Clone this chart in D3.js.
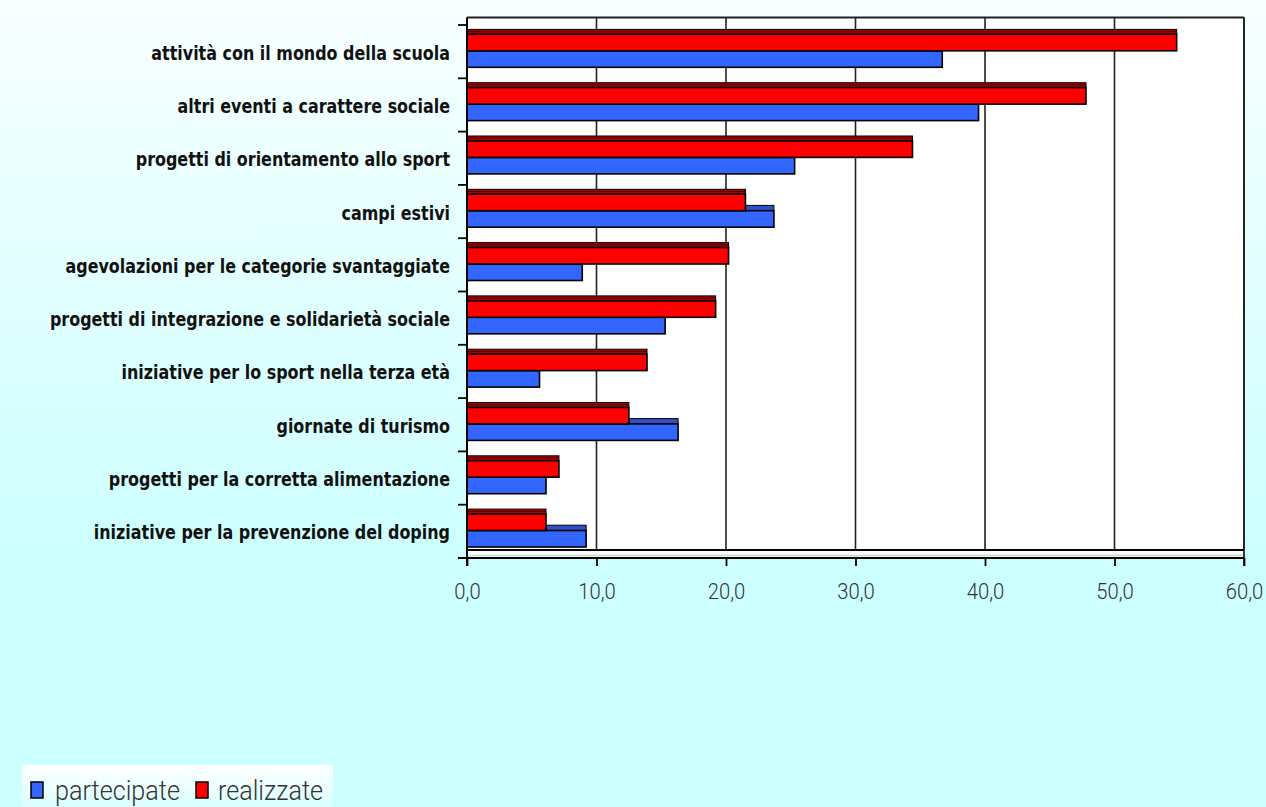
<!DOCTYPE html>
<html><head><meta charset="utf-8">
<script src="https://cdn.jsdelivr.net/npm/d3@7"></script>
<style>
html,body{margin:0;padding:0;overflow:hidden;}
svg{display:block;}
</style></head>
<body>
<svg id="c" width="1266" height="807"></svg>
<script>
const categories = [
  "attività con il mondo della scuola",
  "altri eventi a carattere sociale",
  "progetti di orientamento allo sport",
  "campi estivi",
  "agevolazioni per le categorie svantaggiate",
  "progetti di integrazione e solidarietà sociale",
  "iniziative per lo sport nella terza età",
  "giornate di turismo",
  "progetti per la corretta alimentazione",
  "iniziative per la prevenzione del doping"
];
const partecipate = [36.7, 39.5, 25.3, 23.7, 8.9, 15.3, 5.6, 16.3, 6.1, 9.2];
const realizzate  = [54.8, 47.8, 34.4, 21.5, 20.2, 19.2, 13.9, 12.5, 7.1, 6.1];
const tickValues = [0, 10, 20, 30, 40, 50, 60];
const seriesNames = ["partecipate", "realizzate"];

const svg = d3.select("#c");
const W = 1266, H = 807;

const defs = svg.append("defs");
const bg = defs.append("linearGradient").attr("id","bg").attr("x1",0).attr("y1",0).attr("x2",0).attr("y2",1);
bg.append("stop").attr("offset","0%").attr("stop-color","#F8FFFF");
bg.append("stop").attr("offset","70%").attr("stop-color","#CCFFFF");
bg.append("stop").attr("offset","100%").attr("stop-color","#CCFFFF");
const lg = defs.append("linearGradient").attr("id","lg").attr("x1",0).attr("y1",0).attr("x2",0).attr("y2",1);
lg.append("stop").attr("offset","0%").attr("stop-color","#FFFFFF");
lg.append("stop").attr("offset","100%").attr("stop-color","#D8FFFF");

svg.append("rect").attr("width",W).attr("height",H).attr("fill","url(#bg)");

const x = d3.scaleLinear().domain([0,60]).range([467,1244]);
const y = d3.scaleBand().domain(categories).range([25,558]);
const backTop = 17.5, backBottom = 550, frontAxis = 558;

svg.append("rect").attr("x",x(0)).attr("y",backTop).attr("width",x(60)-x(0)).attr("height",frontAxis-backTop)
  .attr("fill","#fff");
svg.append("line").attr("x1",x(0)).attr("x2",x(60)).attr("y1",frontAxis-2.5).attr("y2",frontAxis-2.5)
  .attr("stroke","#d8d8d8").attr("stroke-width",2);

svg.append("g").selectAll("line").data(tickValues).join("line")
  .attr("x1",d=>x(d)).attr("x2",d=>x(d)).attr("y1",backTop).attr("y2",backBottom)
  .attr("stroke","#222").attr("stroke-width",1.6);
svg.append("line").attr("x1",x(0)).attr("x2",x(60)).attr("y1",backTop).attr("y2",backTop).attr("stroke","#222").attr("stroke-width",1.8);
svg.append("line").attr("x1",x(0)).attr("x2",x(60)).attr("y1",backBottom).attr("y2",backBottom).attr("stroke","#000").attr("stroke-width",1.8);

const g = svg.append("g");
categories.forEach((c,i)=>{
  const b = y(c);
  const gb = g.append("g");
  gb.append("rect").attr("x",x(0)).attr("y",b+20.5).attr("width",x(partecipate[i])-x(0)).attr("height",5.3)
    .attr("fill","#2F50C8").attr("stroke","#000").attr("stroke-width",1);
  gb.append("rect").attr("x",x(0)).attr("y",b+25.8).attr("width",x(partecipate[i])-x(0)).attr("height",16.5)
    .attr("fill","#3366FF").attr("stroke","#000").attr("stroke-width",1.6);
  gb.append("rect").attr("x",x(0)).attr("y",b+4.4).attr("width",x(realizzate[i])-x(0)).attr("height",4.9)
    .attr("fill","#B00000").attr("stroke","#000").attr("stroke-width",1);
  gb.append("line").attr("x1",x(0)).attr("x2",x(realizzate[i])).attr("y1",b+6.6).attr("y2",b+6.6)
    .attr("stroke","#300000").attr("stroke-width",0.8);
  gb.append("rect").attr("x",x(0)).attr("y",b+9.3).attr("width",x(realizzate[i])-x(0)).attr("height",16.5)
    .attr("fill","#FF0000").attr("stroke","#000").attr("stroke-width",1.6);
});

svg.append("line").attr("x1",x(60)).attr("x2",x(60)).attr("y1",backTop).attr("y2",frontAxis+8).attr("stroke","#222").attr("stroke-width",1.8);

const xAxis = d3.axisBottom(x).tickValues(tickValues).tickSize(8).tickSizeOuter(0)
  .tickFormat(d=>d3.format(".1f")(d).replace(".",","));
const ax = svg.append("g").attr("transform",`translate(0,${frontAxis})`).call(xAxis);
ax.select(".domain").attr("stroke","#000").attr("stroke-width",2).attr("d",`M${x(0)-9},0H${x(60)}`);
ax.selectAll(".tick line").attr("stroke","#000").attr("stroke-width",1.8);
ax.selectAll(".tick text").attr("fill","#333").attr("font-family","Roboto, 'Open Sans', sans-serif")
  .attr("font-weight",300).attr("font-size",22.5).attr("y",41).attr("dy",null)
  .attr("transform","scale(0.9,1)");

const boundaries = categories.map(c=>y(c)).concat([y.range()[1]]);
svg.append("line").attr("x1",x(0)).attr("x2",x(0)).attr("y1",backTop).attr("y2",frontAxis+8).attr("stroke","#000").attr("stroke-width",2);
svg.append("g").selectAll("line").data(boundaries).join("line")
  .attr("x1",x(0)-9).attr("x2",x(0)).attr("y1",d=>d).attr("y2",d=>d)
  .attr("stroke","#000").attr("stroke-width",1.8);

const labels = svg.append("g").selectAll("text").data(categories).join("text")
  .attr("x",0).attr("y",0)
  .attr("text-anchor","end").attr("font-family","'DejaVu Sans', sans-serif")
  .attr("font-weight","bold").attr("font-size",19.5).attr("fill","#111").text(d=>d);
const w0 = labels.nodes()[0].getComputedTextLength();
const f = 299 / w0;
labels.attr("transform",d=>`translate(450,${y(d)+y.bandwidth()/2+8}) scale(${f},1)`);

svg.append("rect").attr("x",22).attr("y",765).attr("width",311).attr("height",45).attr("fill","url(#lg)");
const legColors = ["#3366FF","#FF0000"];
const legX = [31, 196];
const legTextX = [55, 218];
const legW = [125, 105];
seriesNames.forEach((n,i)=>{
  svg.append("rect").attr("x",legX[i]).attr("y",782).attr("width",12).attr("height",16)
    .attr("fill",legColors[i]).attr("stroke","#000").attr("stroke-width",1.5);
  const t = svg.append("text").attr("x",0).attr("y",0).attr("font-family","Roboto, 'Open Sans', sans-serif")
    .attr("font-weight",300).attr("font-size",27.5).attr("fill","#333").text(n);
  const s = legW[i] / t.node().getComputedTextLength();
  t.attr("transform",`translate(${legTextX[i]},800) scale(${s},1)`);
});
</script>
</body></html>
